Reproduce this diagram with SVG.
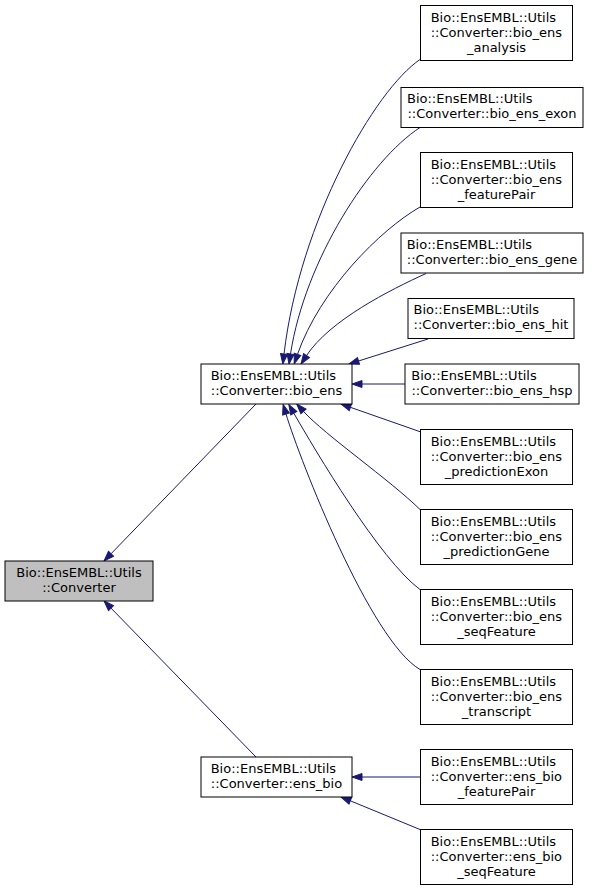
<svg xmlns="http://www.w3.org/2000/svg" width="597" height="891" viewBox="0 0 597 891">
<style>
.node rect{fill:#ffffff;stroke:#000000;stroke-width:1}
.node.main rect{fill:#bfbfbf}
.node text{font-family:"DejaVu Sans","Liberation Sans",sans-serif;font-size:13px;fill:#000000}
.m{text-anchor:middle}
.edges path{fill:none;stroke:#191970;stroke-width:1;marker-end:url(#ah)}
</style>
<defs>
<marker id="ah" markerWidth="10" markerHeight="7" refX="0" refY="3.5" orient="auto" markerUnits="userSpaceOnUse" overflow="visible">
<path d="M0,0 L10,3.5 L0,7 z" fill="#191970" stroke="#191970" stroke-width="1"/>
</marker>
</defs>
<rect width="597" height="891" fill="#ffffff"/>
<g class="edges" id="edges">
<path d="M256,404 L111,553.8"/>
<path d="M256,757 L111,608.1"/>
<path d="M420,59.5 C375,90 300,220 284,354"/>
<path d="M420,127.5 C370,160 305,260 290.5,354"/>
<path d="M420,207 C380,230 320,290 297.5,354.3"/>
<path d="M426,273.5 C390,290 330,320 306.5,355.6"/>
<path d="M428,339 L358.5,361"/>
<path d="M405,384 L362,384"/>
<path d="M420,431.7 L350.4,407.3"/>
<path d="M420,509.5 C390,480 325,435 303.5,411.4"/>
<path d="M420,589.5 C380,560 315,450 293.8,413.2"/>
<path d="M420,669.5 C370,640 300,460 286,414"/>
<path d="M420,777 L362,777"/>
<path d="M420,829.5 L350.3,800.8"/>
</g>
<g class="node main" id="node_converter">
<rect x="5" y="561" width="148" height="40"/>
<text class="m" x="79" y="576.5">Bio::EnsEMBL::Utils</text>
<text class="m" x="79" y="591.5">::Converter</text>
</g>
<g class="node" id="node_bio_ens">
<rect x="201" y="364" width="151" height="40"/>
<text x="210.7" y="379.5">Bio::EnsEMBL::Utils</text>
<text class="m" x="276.5" y="394.5">::Converter::bio_ens</text>
</g>
<g class="node" id="node_ens_bio">
<rect x="201" y="757" width="151" height="40"/>
<text x="210.7" y="772.5">Bio::EnsEMBL::Utils</text>
<text class="m" x="276.5" y="787.5">::Converter::ens_bio</text>
</g>
<g class="node" id="node_bio_ens_analysis">
<rect x="420.5" y="5.5" width="152" height="55"/>
<text x="430.7" y="21.5">Bio::EnsEMBL::Utils</text>
<text x="430.7" y="36.5">::Converter::bio_ens</text>
<text class="m" x="496.5" y="51.5">_analysis</text>
</g>
<g class="node" id="node_bio_ens_exon">
<rect x="401" y="87.5" width="182" height="40"/>
<text x="407" y="103">Bio::EnsEMBL::Utils</text>
<text class="m" x="492" y="118">::Converter::bio_ens_exon</text>
</g>
<g class="node" id="node_bio_ens_featurePair">
<rect x="420.5" y="152.5" width="152" height="55"/>
<text x="430.7" y="168.5">Bio::EnsEMBL::Utils</text>
<text x="430.7" y="183.5">::Converter::bio_ens</text>
<text class="m" x="496.5" y="198.5">_featurePair</text>
</g>
<g class="node" id="node_bio_ens_gene">
<rect x="401" y="233" width="182" height="40"/>
<text x="406.7" y="248.5">Bio::EnsEMBL::Utils</text>
<text class="m" x="492" y="263.5">::Converter::bio_ens_gene</text>
</g>
<g class="node" id="node_bio_ens_hit">
<rect x="408" y="298.5" width="166" height="40"/>
<text x="413.5" y="314">Bio::EnsEMBL::Utils</text>
<text class="m" x="491" y="329">::Converter::bio_ens_hit</text>
</g>
<g class="node" id="node_bio_ens_hsp">
<rect x="405" y="364" width="174" height="40"/>
<text x="411.3" y="379.5">Bio::EnsEMBL::Utils</text>
<text class="m" x="492" y="394.5">::Converter::bio_ens_hsp</text>
</g>
<g class="node" id="node_bio_ens_predictionExon">
<rect x="420.5" y="429.5" width="152" height="55"/>
<text x="430.7" y="445.5">Bio::EnsEMBL::Utils</text>
<text x="430.7" y="460.5">::Converter::bio_ens</text>
<text class="m" x="496.5" y="475.5">_predictionExon</text>
</g>
<g class="node" id="node_bio_ens_predictionGene">
<rect x="420.5" y="509.5" width="152" height="55"/>
<text x="430.7" y="525.5">Bio::EnsEMBL::Utils</text>
<text x="430.7" y="540.5">::Converter::bio_ens</text>
<text class="m" x="496.5" y="555.5">_predictionGene</text>
</g>
<g class="node" id="node_bio_ens_seqFeature">
<rect x="420.5" y="589.5" width="152" height="55"/>
<text x="430.7" y="605.5">Bio::EnsEMBL::Utils</text>
<text x="430.7" y="620.5">::Converter::bio_ens</text>
<text class="m" x="496.5" y="635.5">_seqFeature</text>
</g>
<g class="node" id="node_bio_ens_transcript">
<rect x="420.5" y="669.5" width="152" height="55"/>
<text x="430.7" y="685.5">Bio::EnsEMBL::Utils</text>
<text x="430.7" y="700.5">::Converter::bio_ens</text>
<text class="m" x="496.5" y="715.5">_transcript</text>
</g>
<g class="node" id="node_ens_bio_featurePair">
<rect x="420.5" y="749.5" width="152" height="55"/>
<text x="430.7" y="765.5">Bio::EnsEMBL::Utils</text>
<text x="430.7" y="780.5">::Converter::ens_bio</text>
<text class="m" x="496.5" y="795.5">_featurePair</text>
</g>
<g class="node" id="node_ens_bio_seqFeature">
<rect x="420.5" y="829.5" width="152" height="55"/>
<text x="430.7" y="845.5">Bio::EnsEMBL::Utils</text>
<text x="430.7" y="860.5">::Converter::ens_bio</text>
<text class="m" x="496.5" y="875.5">_seqFeature</text>
</g>
</svg>
